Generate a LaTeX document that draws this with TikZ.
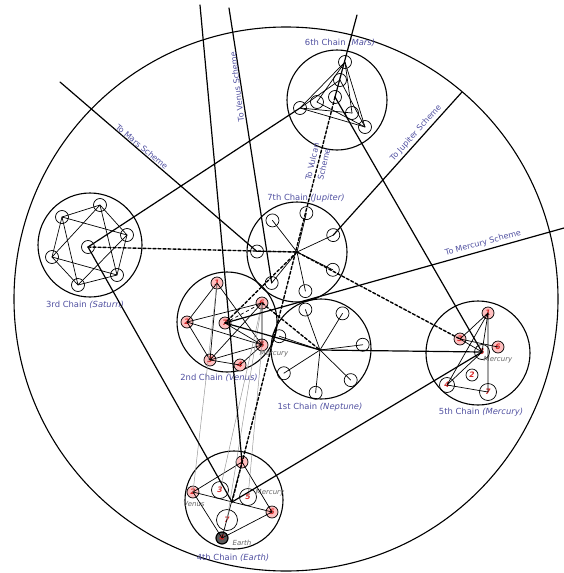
\documentclass[tikz,border=0pt]{standalone}
\usepackage{fontspec}
\setmainfont{DejaVu Sans}
\usetikzlibrary{calc}
\definecolor{lblue}{RGB}{80,80,160}
\definecolor{numred}{RGB}{215,40,40}

\begin{document}
\begin{tikzpicture}[
  x=1pt, y=-1pt,
  line cap=round, line join=round,
  rim/.style={line width=1.1pt},
  link/.style={line width=1.2pt},
  dlink/.style={line width=1.4pt, dash pattern=on 3pt off 2pt},
  faint/.style={line width=0.5pt, black!40},
  web/.style={line width=0.7pt},
  globe/.style={circle, draw, line width=0.7pt, minimum size=13pt, inner sep=0pt},
  rglobe/.style={globe, fill=red!25, minimum size=12pt,
    font=\fontsize{7.5}{8}\selectfont\itshape\bfseries, text=numred},
  chn/.style={text=lblue, font=\fontsize{8.4}{10}\selectfont},
  scheme/.style={text=lblue, font=\fontsize{8}{9}\selectfont},
  pname/.style={text=black!60, font=\fontsize{7}{8}\selectfont\itshape}
]
  \useasboundingbox (0,0) rectangle (564,573);
  % outer ring of the scheme
  \draw[rim] (286,299) circle[radius=272];

  % chain rings
  \node[draw, rim, circle, minimum size=100pt] (mars)    at (337,100) {};
  \node[draw, rim, circle, minimum size=104pt] (saturn)  at (90,245)  {};
  \node[draw, rim, circle, minimum size=100pt] (jupiter) at (297,252) {};
  \node[draw, rim, circle, minimum size=100pt] (venus)   at (227,322) {};
  \node[draw, rim, circle, minimum size=100pt] (neptune) at (321,349) {};
  \node[draw, rim, circle, minimum size=104pt] (mercury) at (478,353) {};
  \node[draw, rim, circle, minimum size=98pt]  (earth)   at (234,500) {};

  % chain names
  \node[chn] (lmars) at (340,43)  {6th Chain \textit{(Mars)}};
  \node[chn] (lsat)  at (85,305)  {3rd Chain \textit{(Saturn)}};
  \node[chn] (ljup)  at (306,198) {7th Chain \textit{(Jupiter)}};
  \node[chn] (lven)  at (219,378) {2nd Chain \textit{(Venus)}};
  \node[chn] (lnep)  at (320,407) {1st Chain \textit{(Neptune)}};
  \node[chn] (lmer)  at (481,412) {5th Chain \textit{(Mercury)}};
  \node[chn] (lear)  at (233,558) {4th Chain \textit{(Earth)}};

  % Mars globes
  \node[globe] (mA) at (345,62)  {};
  \node[globe] (mB) at (300,108) {};
  \node[globe] (mC) at (365,127) {};
  \node[globe] (mD) at (340,80)  {};
  \node[globe] (mE) at (317,102) {};
  \node[globe] (mF) at (352,113) {};
  \node[globe] (mH) at (335,97)  {};
  \draw[web] (mA.center) -- (mB.center) -- (mC.center) -- cycle;
  \draw[web] (mA.center) -- (mE.center) (mA.center) -- (mF.center);
  \draw[web] (mB.center) -- (mD.center) (mB.center) -- (mF.center);
  \draw[web] (mC.center) -- (mD.center) (mC.center) -- (mE.center);

  % Saturn globes
  \foreach \n/\p in {a/{(100,205)}, b/{(127,235)}, c/{(117,275)},
                     d/{(78,285)}, e/{(52,257)}, f/{(62,217)}, h/{(88,247)}}
    \node[globe] (s\n) at \p {};
  \draw[web] (sa.center) -- (sb.center) -- (sc.center) -- (sd.center)
             -- (se.center) -- (sf.center) -- cycle;
  \draw[web] (sa.center) -- (sc.center) -- (se.center) -- cycle;
  \draw[web] (sb.center) -- (sd.center) -- (sf.center) -- cycle;

  % Jupiter and Neptune globes, spokes from the hub
  \coordinate (jh) at (297,252);
  \coordinate (nh) at (320,350);
  \foreach \i in {1,...,7} {
    \node[globe] (j\i) at ($(jh)+({25+51.43*(\i-1)}:40pt)$) {};
    \draw[web] (jh) -- (j\i.center);
    \node[globe] (n\i) at ($(nh)+({7+51.43*(\i-1)}:43pt)$) {};
    \draw[web] (nh) -- (n\i.center);
  }

  % Venus globes
  \foreach \n/\p in {1/{(217,283)}, 6/{(262,303)}, 2/{(187,322)}, 7/{(225,323)},
                     5/{(262,345)}, 3/{(210,360)}, 4/{(240,365)}}
    \node[rglobe] (v\n) at \p {\n};
  \node[pname] (vmer) at (274,354) {Mercury};
  \draw[web] (v1.center) -- (v2.center) -- (v3.center) -- (v4.center) -- (v5.center);
  \draw[web] (v1.center) -- (v3.center) -- (v5.center) -- (v1.center);
  \draw[web] (v2.center) -- (v6.center) -- (v3.center);
  \draw[web] (v2.center) -- (v5.center) -- (v6.center);
  \draw[web] (v7.center) -- (v5.center);
  \draw[web, dashed] (v7.center) -- (v6.center);

  % Mercury globes
  \node[rglobe] (mc1) at (488,313) {1};
  \node[rglobe] (mc3) at (460,339) {3};
  \node[rglobe] (mc6) at (498,347) {6};
  \node[rglobe, fill=none, minimum size=15pt] (mc5) at (482,352) {5};
  \node[rglobe, fill=none] (mc2) at (472,375) {2};
  \node[rglobe, fill=none, minimum size=15pt] (mc4) at (447,385) {4};
  \node[rglobe, fill=none, minimum size=17pt] (mc7) at (488,392) {7};
  \node[pname] (mmer) at (498,360) {Mercury};
  \draw[web] (mc1.center) -- (mc7.center) -- (mc4.center) -- cycle;
  \draw[web] (mc1.center) -- (mc3.center) -- (mc6.center);
  \draw[web] (mc1.center) -- (mc5.center) -- (mc3.center);
  \draw[web] (mc4.center) -- (mc5.center);

  % Earth globes
  \node[rglobe] (e1) at (242,462) {1};
  \node[rglobe] (e2) at (193,492) {2};
  \node[rglobe, fill=none, minimum size=17pt] (e3) at (220,490) {3};
  \node[rglobe, fill=none, minimum size=17pt] (e5) at (248,497) {5};
  \node[rglobe] (e6) at (272,512) {6};
  \node[rglobe, fill=none, minimum size=21pt] (e7) at (227,520) {7};
  \node[rglobe, fill=black!65, line width=1.2pt] (e4) at (222,538) {4};
  \coordinate (eh) at (232,502);
  \node[pname] (evenus) at (194,504) {Venus};
  \node[pname] (emer)   at (270,493) {Mercury};
  \node[pname] (eearth) at (242,543) {Earth};
  \draw[web] (e1.center) -- (e2.center) -- (e4.center) -- (e6.center) -- cycle;
  \draw[web] (e2.center) -- (e6.center) (e1.center) -- (e4.center);

  % faint ties between Venus and Earth chains
  \draw[faint] (v1.center) -- (e2.center);
  \draw[faint] (v6.center) -- (e3.center);
  \draw[faint] (v6.center) -- (e7.center);
  \draw[faint] (v5.center) -- (e5.center);

  % free ends of the scheme lines
  \coordinate (toMars)    at (60,82);
  \coordinate (toTop)     at (200,5);
  \coordinate (toVenus)   at (229,8);
  \coordinate (toVulcan)  at (357,15);
  \coordinate (toJupiter) at (462,92);
  \coordinate (toMercury) at (564,228);

  % scheme lines
  \draw[link] (toMars) -- (j4.center);
  \draw[link] (toTop) -- (e1.center);
  \draw[link] (j5.center) -- (toVenus);
  \draw[link] (toVulcan) -- (mH.center);
  \draw[dlink] (mH.center) -- (eh);
  \draw[link] (j1.center) -- (toJupiter);
  \draw[link] (v7.center) -- (toMercury);
  \node[scheme, rotate=-40] (lmarss) at (142,147) {To Mars Scheme};
  \node[scheme, rotate=97] (lvens) at (237,87) {To Venus Scheme};
  \node[scheme, rotate=77, align=center] (lvul) at (318,163) {To Vulcan\\[3pt]Scheme};
  \node[scheme, rotate=48] (ljups) at (416,133) {To Jupiter Scheme};
  \node[scheme, rotate=15] (lmers) at (483,243) {To Mercury Scheme};

  % links between chains
  \draw[link] (sh.center) -- (mB.center);
  \draw[link] (sh.center) -- (eh);
  \draw[dlink] (sh.center) -- (jh) -- (mc3.center);
  \draw[link] (mH.center) -- (mc5.center);
  \draw[link] (v7.center) -- (nh) -- (mc5.center);
  \draw[link] (eh) -- (mc5.center);
  \draw[dlink] (jh) -- (v7.center);
  \draw[dlink] (v6.center) -- (nh);
\end{tikzpicture}
\end{document}
